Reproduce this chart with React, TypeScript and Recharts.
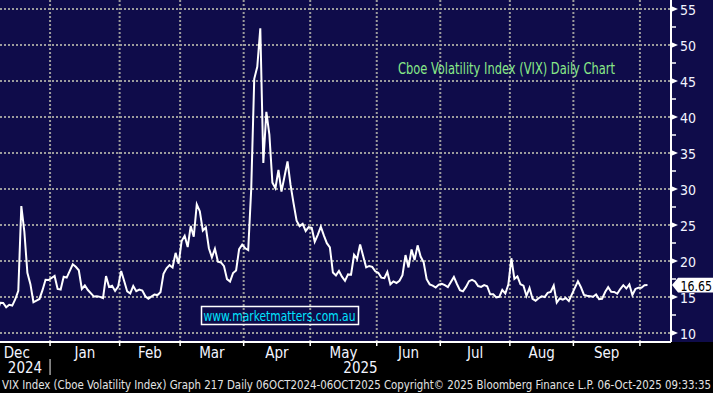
import React from 'react';
import { ComposedChart, Line, XAxis, YAxis, CartesianGrid, ReferenceLine } from 'recharts';

// ---------- data (VIX daily closes) ----------
const dates: string[] = [
  '2024-12-06','2024-12-09','2024-12-10','2024-12-11','2024-12-12','2024-12-13','2024-12-16','2024-12-17','2024-12-18','2024-12-19',
  '2024-12-20','2024-12-23','2024-12-24','2024-12-26','2024-12-27','2024-12-30','2024-12-31',
  '2025-01-02','2025-01-03','2025-01-06','2025-01-07','2025-01-08','2025-01-10','2025-01-13','2025-01-14','2025-01-15','2025-01-16',
  '2025-01-17','2025-01-21','2025-01-22','2025-01-23','2025-01-24','2025-01-27','2025-01-28','2025-01-29','2025-01-30','2025-01-31',
  '2025-02-03','2025-02-04','2025-02-05','2025-02-06','2025-02-07','2025-02-10','2025-02-11','2025-02-12','2025-02-13','2025-02-14',
  '2025-02-18','2025-02-19','2025-02-20','2025-02-21','2025-02-24','2025-02-25','2025-02-26','2025-02-27','2025-02-28',
  '2025-03-03','2025-03-04','2025-03-05','2025-03-06','2025-03-07','2025-03-10','2025-03-11','2025-03-12','2025-03-13','2025-03-14',
  '2025-03-17','2025-03-18','2025-03-19','2025-03-20','2025-03-21','2025-03-24','2025-03-25','2025-03-26','2025-03-27','2025-03-28','2025-03-31',
  '2025-04-01','2025-04-02','2025-04-03','2025-04-04','2025-04-07','2025-04-08','2025-04-09','2025-04-10','2025-04-11','2025-04-14',
  '2025-04-15','2025-04-16','2025-04-17','2025-04-21','2025-04-22','2025-04-23','2025-04-24','2025-04-25','2025-04-28','2025-04-29','2025-04-30',
  '2025-05-01','2025-05-02','2025-05-05','2025-05-06','2025-05-07','2025-05-08','2025-05-09','2025-05-12','2025-05-13','2025-05-14',
  '2025-05-15','2025-05-16','2025-05-19','2025-05-20','2025-05-21','2025-05-22','2025-05-23','2025-05-27','2025-05-28','2025-05-29','2025-05-30',
  '2025-06-02','2025-06-03','2025-06-04','2025-06-05','2025-06-06','2025-06-09','2025-06-10','2025-06-11','2025-06-12','2025-06-13',
  '2025-06-16','2025-06-17','2025-06-18','2025-06-19','2025-06-20','2025-06-23','2025-06-24','2025-06-25','2025-06-26','2025-06-27','2025-06-30',
  '2025-07-01','2025-07-02','2025-07-03','2025-07-07','2025-07-08','2025-07-09','2025-07-10','2025-07-11','2025-07-14','2025-07-15',
  '2025-07-16','2025-07-17','2025-07-18','2025-07-21','2025-07-22','2025-07-23','2025-07-24','2025-07-25','2025-07-28','2025-07-29','2025-07-30','2025-07-31',
  '2025-08-01','2025-08-04','2025-08-05','2025-08-06','2025-08-07','2025-08-08','2025-08-11','2025-08-12','2025-08-13','2025-08-14',
  '2025-08-15','2025-08-18','2025-08-19','2025-08-20','2025-08-21','2025-08-22','2025-08-25','2025-08-26','2025-08-27','2025-08-28','2025-08-29',
  '2025-09-02','2025-09-03','2025-09-04','2025-09-05','2025-09-08','2025-09-09','2025-09-10','2025-09-11','2025-09-12','2025-09-15',
  '2025-09-16','2025-09-17','2025-09-18','2025-09-19','2025-09-22','2025-09-23','2025-09-24','2025-09-25','2025-09-26','2025-09-29','2025-09-30',
  '2025-10-01','2025-10-02','2025-10-03',
];

const vix: number[] = [
  12.77, 14.19, 14.18, 13.58, 13.92, 13.81, 14.69, 15.87, 27.62, 24.09,
  18.36, 16.78, 14.27, 14.73, 15.95, 17.40, 17.35,
  17.93, 16.13, 16.04, 17.82, 17.70, 19.54, 19.19, 18.71, 16.12, 16.60,
  15.97, 15.06, 15.10, 15.02, 14.85, 17.90, 16.41, 16.56, 15.84, 16.43,
  18.62, 17.21, 15.77, 15.50, 16.54, 15.81, 16.02, 15.89, 15.10, 14.77,
  15.35, 15.27, 15.66, 18.21, 18.98, 19.43, 19.10, 21.13, 19.63,
  22.78, 23.51, 21.93, 24.87, 23.37, 27.86, 26.92, 24.23, 24.66, 21.77,
  20.51, 21.70, 19.90, 19.80, 19.28, 17.48, 17.15, 18.33, 18.69, 21.65, 22.28,
  21.77, 21.51, 30.02, 45.31, 46.98, 52.33, 33.62, 40.72, 37.56, 30.89,
  30.12, 32.64, 29.65, 33.82, 30.57, 28.0, 25.6, 24.84, 25.15, 24.17, 24.70,
  24.60, 22.68, 23.64, 24.76, 23.55, 22.48, 21.90, 18.39, 18.0, 18.62,
  17.83, 17.24, 18.14, 18.09, 20.87, 20.28, 22.29, 19.11, 19.31, 19.18, 18.57,
  18.36, 17.69, 17.61, 18.48, 16.77, 17.16, 16.95, 17.26, 18.02, 20.82,
  19.11, 21.60, 20.14, 22.17, 20.62, 19.83, 17.48, 16.76, 16.59, 16.32, 16.73,
  16.83, 16.64, 16.38, 17.79, 16.81, 15.94, 15.78, 16.40, 17.20, 17.38,
  17.16, 16.52, 16.41, 16.65, 16.50, 15.37, 15.39, 14.93, 15.03, 15.98, 15.48, 16.72,
  20.38, 17.52, 17.85, 16.77, 16.57, 15.15, 16.25, 14.73, 14.49, 14.83,
  15.09, 14.99, 15.57, 15.69, 16.60, 14.22, 14.79, 14.62, 14.85, 14.43, 15.36,
  17.17, 16.35, 15.30, 15.18, 15.11, 15.04, 15.35, 14.71, 14.76, 15.69,
  16.36, 15.72, 15.70, 15.45, 16.10, 16.64, 16.18, 16.74, 15.29, 16.12, 16.28,
  16.29, 16.63, 16.65,
];

const yMajorTicks: number[] = [10, 15, 20, 25, 30, 35, 40, 45, 50, 55];
const yMinorTicks: number[] = [12.5, 17.5, 22.5, 27.5, 32.5, 37.5, 42.5, 47.5, 52.5];
const monthStarts: string[] = [
  '2024-12-01','2025-01-01','2025-02-01','2025-03-01','2025-04-01','2025-05-01',
  '2025-06-01','2025-07-01','2025-08-01','2025-09-01','2025-10-01','2025-11-01',
];
const monthLabels: string[] = ['Dec','Jan','Feb','Mar','Apr','May','Jun','Jul','Aug','Sep','Oct'];
const yearLabels: string[] = ['2024', '2025'];
const lastValue = 16.65;
const titleText = 'Cboe Volatility Index (VIX) Daily Chart';
const urlText = 'www.marketmatters.com.au';
const footerText =
  'VIX Index (Cboe Volatility Index) Graph 217 Daily 06OCT2024-06OCT2025 Copyright\u00a9 2025 Bloomberg Finance L.P. 06-Oct-2025 09:33:35';

// ---------- scale helpers (weekday axis, like Bloomberg) ----------
const DAY = 86400000;
const BASE = Date.UTC(2025, 0, 1);
function weekdayIndex(s: string): number {
  const [y, m, d] = s.split('-').map(Number);
  const t = Date.UTC(y, m - 1, d);
  const days = Math.round((t - BASE) / DAY);
  let n = 0;
  if (days >= 0) {
    for (let i = 0; i < days; i++) {
      const dow = new Date(BASE + i * DAY).getUTCDay();
      if (dow !== 0 && dow !== 6) n++;
    }
  } else {
    for (let i = -1; i >= days; i--) {
      const dow = new Date(BASE + i * DAY).getUTCDay();
      if (dow !== 0 && dow !== 6) n--;
    }
  }
  return n;
}

const X_DOMAIN: [number, number] = [-17.05, 204.77];
const Y_DOMAIN: [number, number] = [8.75, 56.25];

const chartData = dates.map((d, i) => ({ w: weekdayIndex(d), v: vix[i] }));
const boundaries = monthStarts.map((s) => weekdayIndex(s) - 0.5);
const inDomain = (v: number) => v > X_DOMAIN[0] && v < X_DOMAIN[1];
const yearEdge = boundaries[1];

type TickInfo = { value: number; kind: 'boundary' | 'month' | 'year'; label?: string; divider?: boolean };
const xTickInfo: TickInfo[] = [
  ...boundaries.filter(inDomain).map((b) => ({ value: b, kind: 'boundary' as const, divider: b === yearEdge })),
  ...monthLabels
    .map((m, i) => ({ value: (boundaries[i] + boundaries[i + 1]) / 2, kind: 'month' as const, label: m }))
    .filter((t) => inDomain(t.value)),
  { value: (X_DOMAIN[0] + yearEdge) / 2, kind: 'year', label: yearLabels[0] },
  { value: (yearEdge + X_DOMAIN[1]) / 2, kind: 'year', label: yearLabels[1] },
];
const xTicks = xTickInfo.map((t) => t.value).sort((a, b) => a - b);
const gridX = boundaries.filter(inDomain);

const NAVY = '#0f0c4a';
const FONT = "'Liberation Sans Narrow', 'Arial Narrow', 'DejaVu Sans Condensed', 'Liberation Sans', Arial, sans-serif";
const GRID = '#9c9c9c';

const XTick = (props: any) => {
  const { x, y, payload } = props;
  const info = xTickInfo.find((t) => Math.abs(t.value - payload.value) < 1e-6);
  if (!info) return null;
  if (info.kind === 'boundary') {
    return (
      <g>
        <line x1={x} x2={x} y1={y} y2={y + 4} stroke="#ffffff" strokeWidth={1.5} />
        {info.divider && <line x1={x} x2={x} y1={y + 17} y2={y + 33} stroke="#a0a0a0" strokeWidth={1.5} />}
      </g>
    );
  }
  const dy = info.kind === 'month' ? 16 : 31;
  return (
    <text x={x} y={y + dy} textAnchor="middle" fill="#f2f4ff" fontSize={15} fontFamily={FONT}>
      {info.label}
    </text>
  );
};

const YTick = (props: any) => {
  const { x, y, payload } = props;
  const v = payload.value;
  if (yMajorTicks.includes(v)) {
    return (
      <g>
        <polygon points={`${x},${y - 3} ${x + 7},${y} ${x},${y + 3}`} fill="#ffffff" />
        <text x={x + 9} y={y + 5.5} fill="#f2f4ff" fontSize={14} fontFamily={FONT}>
          {v}
        </text>
      </g>
    );
  }
  return <line x1={x} x2={x + 5} y1={y} y2={y} stroke="#ffffff" strokeWidth={1.5} />;
};

const LastLabel = (props: any) => {
  const vb = props.viewBox || {};
  const x = (vb.x || 0) + (vb.width || 0);
  const y = vb.y || 0;
  return (
    <g>
      <polygon
        points={`${x + 1},${y} ${x + 7},${y - 7.3} ${x + 46},${y - 7.3} ${x + 46},${y + 7.5} ${x + 7},${y + 7.5}`}
        fill="#ffffff"
      />
      <text x={x + 9.5} y={y + 5.5} fill="#000000" fontSize={14} fontFamily={FONT} textLength={31.5} lengthAdjust="spacingAndGlyphs">
        {lastValue.toFixed(2)}
      </text>
    </g>
  );
};

export default function App() {
  return (
    <div style={{ position: 'absolute', left: 0, top: 0, width: 713, height: 393, background: '#000000', overflow: 'hidden' }}>
      <div style={{ position: 'absolute', left: 0, top: 0, width: 713, height: 342, background: NAVY }} />
      <div style={{ position: 'absolute', left: 0, top: 0 }}>
        <ComposedChart width={713} height={393} data={chartData} margin={{ top: 0, right: 0, bottom: 0, left: 0 }}>
          <CartesianGrid
            horizontalValues={yMajorTicks}
            verticalValues={gridX}
            stroke={GRID}
            strokeWidth={2}
            strokeDasharray="2 2"
          />
          <XAxis
            dataKey="w"
            type="number"
            domain={X_DOMAIN}
            allowDataOverflow
            ticks={xTicks}
            interval={0}
            height={51}
            tickSize={0}
            tickMargin={0}
            tickLine={false}
            axisLine={{ stroke: '#ffffff', strokeWidth: 2 }}
            tick={XTick}
          />
          <YAxis
            orientation="right"
            type="number"
            domain={Y_DOMAIN}
            allowDataOverflow
            ticks={[...yMajorTicks, ...yMinorTicks].sort((a, b) => a - b)}
            interval={0}
            width={42}
            tickSize={0}
            tickMargin={0}
            tickLine={false}
            axisLine={{ stroke: '#ffffff', strokeWidth: 2 }}
            tick={YTick}
          />
          <ReferenceLine y={lastValue} stroke="none" label={<LastLabel />} />
          <Line
            dataKey="v"
            type="linear"
            stroke="#ffffff"
            strokeWidth={2}
            dot={false}
            activeDot={false}
            isAnimationActive={false}
          />
        </ComposedChart>
      </div>
      <svg width={713} height={393} style={{ position: 'absolute', left: 0, top: 0, pointerEvents: 'none' }}>
        <text x={398} y={74} fill="#88e888" fontSize={15} fontFamily={FONT} textLength={217} lengthAdjust="spacingAndGlyphs">
          {titleText}
        </text>
        <rect x={201.5} y={306.5} width={157} height={18} fill="none" stroke="#ffffff" strokeWidth={1.5} />
        <text x={203.5} y={320.5} fill="#00e4ff" fontSize={14.5} fontFamily={FONT} textLength={152} lengthAdjust="spacingAndGlyphs">
          {urlText}
        </text>
        <text x={2} y={389} fill="#e4e4e4" fontSize={12.5} fontFamily={FONT} textLength={709} lengthAdjust="spacingAndGlyphs">
          {footerText}
        </text>
      </svg>
    </div>
  );
}
